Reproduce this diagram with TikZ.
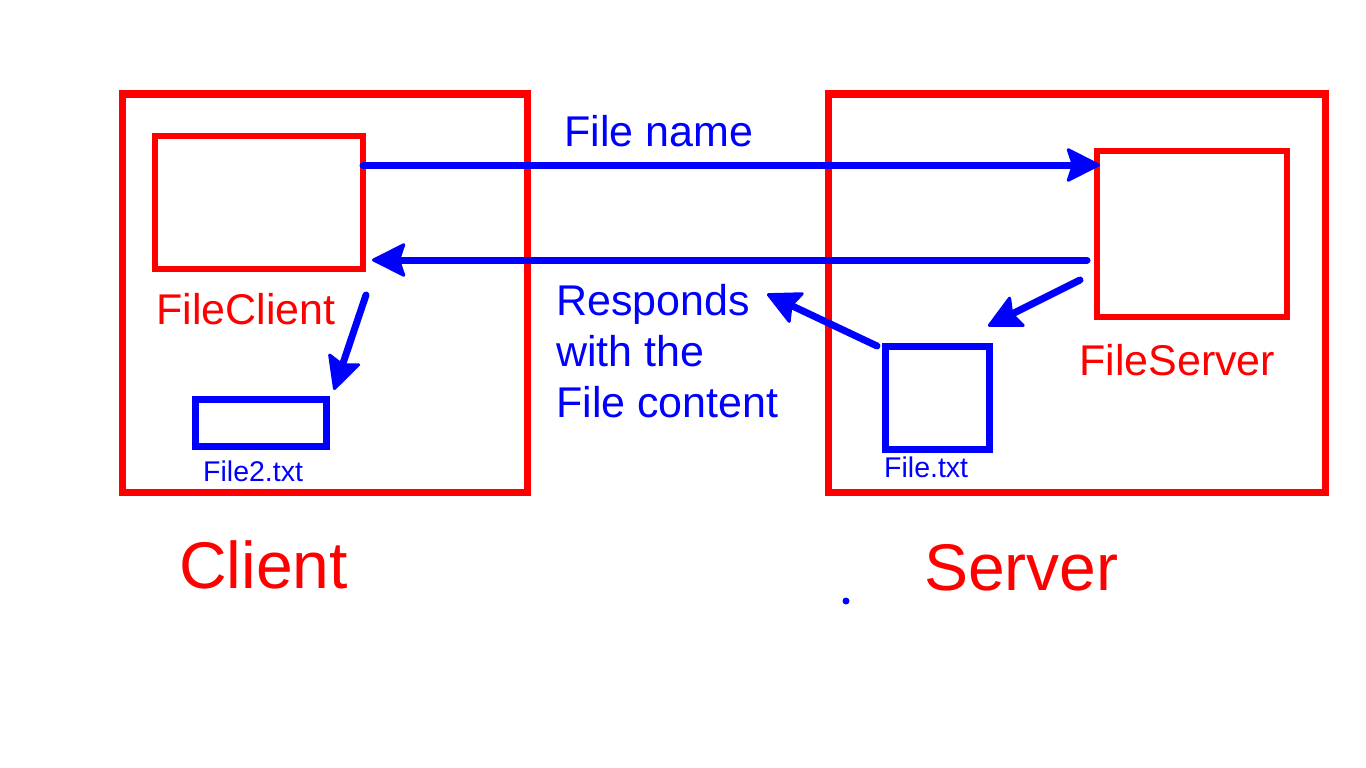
\documentclass[tikz,border=0pt]{standalone}
\usepackage{fontspec}
\setmainfont{Liberation Sans}
\usetikzlibrary{arrows.meta}
\definecolor{pred}{RGB}{255,0,0}
\definecolor{pblue}{RGB}{0,0,255}
\tikzset{
  redbox/.style={draw=pred, line width=6.5pt, inner sep=0pt, outer sep=0pt},
  bluebox/.style={draw=pblue, line width=7pt, inner sep=0pt, outer sep=0pt},
  arr/.style={draw=pblue, line width=7pt, line cap=round,
    -{Stealth[length=36pt, width=36pt, inset=6pt, round, line width=3pt]}},
  lbl/.style={inner sep=0pt, anchor=base west, font=\fontsize{43}{51}\selectfont},
  small/.style={inner sep=0pt, anchor=base west, text=pblue, font=\fontsize{28.5}{32}\selectfont},
  huge/.style={inner sep=0pt, anchor=base west, text=pred, font=\fontsize{66}{78}\selectfont},
}
\begin{document}
\begin{tikzpicture}[x=1pt, y=-1pt]
\useasboundingbox (0,0) rectangle (1366,768);
% outer boxes
\node[redbox, line width=7pt, minimum width=405pt, minimum height=398pt] (client) at (324.5,293) {};
\node[redbox, line width=7pt, minimum width=497pt, minimum height=398pt] (server) at (1076.5,293) {};
% inner boxes
\node[redbox, minimum width=208pt, minimum height=133pt] (fc) at (259,202.5) {};
\node[redbox, minimum width=190pt, minimum height=166pt] (fs) at (1192,234) {};
\node[bluebox, minimum width=131pt, minimum height=47pt] (f2) at (260.5,422.5) {};
\node[bluebox, minimum width=104pt, minimum height=103pt] (f1) at (937,397.5) {};
% labels
\node[lbl, text=pblue] (lname) at (564,146) {File name};
\node[lbl, text=pred] (lfc) at (156,324) {FileClient};
\node[lbl, text=pred] (lfs) at (1079,375) {FileServer};
\node[lbl, text=pblue, align=left, anchor=north west] (lresp) at (556,284) {Responds\\with the\\File content};
\node[small] (lf2) at (203,481) {File2.txt};
\node[small] (lf1) at (884,477) {File.txt};
\node[huge] (lclient) at (179,588) {Client};
\node[huge] (lserver) at (924,590) {Server};
% arrow end points
\coordinate (a2s) at (1087,260);
\coordinate (a2e) at (372,260);
\coordinate (a3s) at (366,295);
\coordinate (a3e) at (334,390);
\coordinate (a4s) at (1080,280);
\coordinate (a4e) at (988,326);
\coordinate (a5s) at (877,346);
\coordinate (a5e) at (767,294);
% arrows
\draw[arr] (fc.east |- 0,165) -- ([xshift=3pt]fs.west |- 0,165);
\draw[arr] (a2s) -- (a2e);
\draw[arr] (a3s) -- (a3e);
\draw[arr] (a4s) -- (a4e);
\draw[arr] (a5s) -- (a5e);
% dot
\fill[pblue] (846,601) circle (3.5pt);
\end{tikzpicture}
\end{document}
